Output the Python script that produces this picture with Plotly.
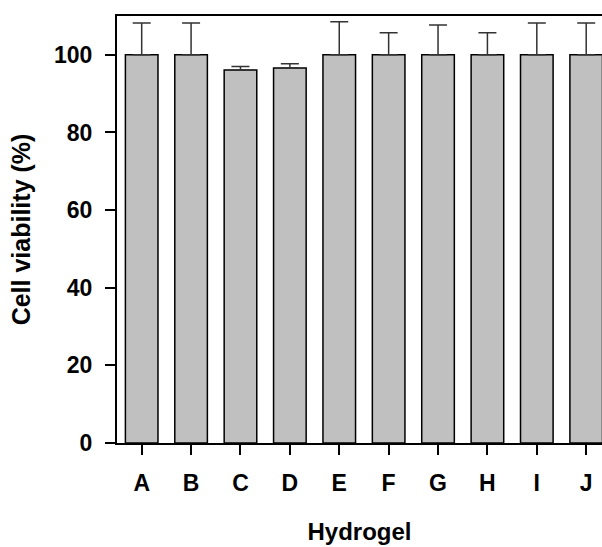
import plotly.graph_objects as go

# Cell viability per hydrogel formulation (mean and upper SD)
hydrogels = ["A", "B", "C", "D", "E", "F", "G", "H", "I", "J"]
viability = [100, 100, 96.1, 96.6, 100, 100, 100, 100, 100, 100]
sd_upper = [8.2, 8.2, 0.9, 1.1, 8.5, 5.7, 7.7, 5.7, 8.2, 8.2]
y_ticks = [0, 20, 40, 60, 80, 100]

FONT = "Arial, 'Liberation Sans', sans-serif"

fig = go.Figure(
    go.Bar(
        x=hydrogels,
        y=viability,
        marker=dict(color="#c0c0c0", line=dict(color="#000000", width=1.5)),
        error_y=dict(
            type="data",
            symmetric=False,
            array=sd_upper,
            arrayminus=[0] * len(sd_upper),
            color="#333333",
            thickness=1.5,
            width=9,
        ),
    )
)

fig.update_layout(
    width=602,
    height=547,
    margin=dict(l=117, r=0, t=16, b=104),
    paper_bgcolor="white",
    plot_bgcolor="white",
    bargap=0.34,
    showlegend=False,
    font=dict(family=FONT, color="#000000"),
)

fig.update_xaxes(
    type="category",
    range=[-0.5, 9.32],
    showline=True,
    linecolor="#000000",
    linewidth=2,
    mirror=True,
    ticks="outside",
    ticklen=10,
    tickwidth=2,
    tickcolor="#000000",
    ticklabelstandoff=8,
    tickfont=dict(size=23, weight="bold"),
    showgrid=False,
    title=dict(text="Hydrogel", font=dict(size=24, weight="bold"), standoff=29),
)

fig.update_yaxes(
    range=[0, 110],
    tickvals=y_ticks,
    showline=True,
    linecolor="#000000",
    linewidth=2,
    ticks="outside",
    ticklen=10,
    tickwidth=2,
    tickcolor="#000000",
    ticklabelstandoff=8,
    tickfont=dict(size=23, weight="bold"),
    showgrid=False,
    zeroline=False,
    title=dict(text="Cell viability (%)", font=dict(size=25, weight="bold"), standoff=16),
)

fig.write_html("out.html")
